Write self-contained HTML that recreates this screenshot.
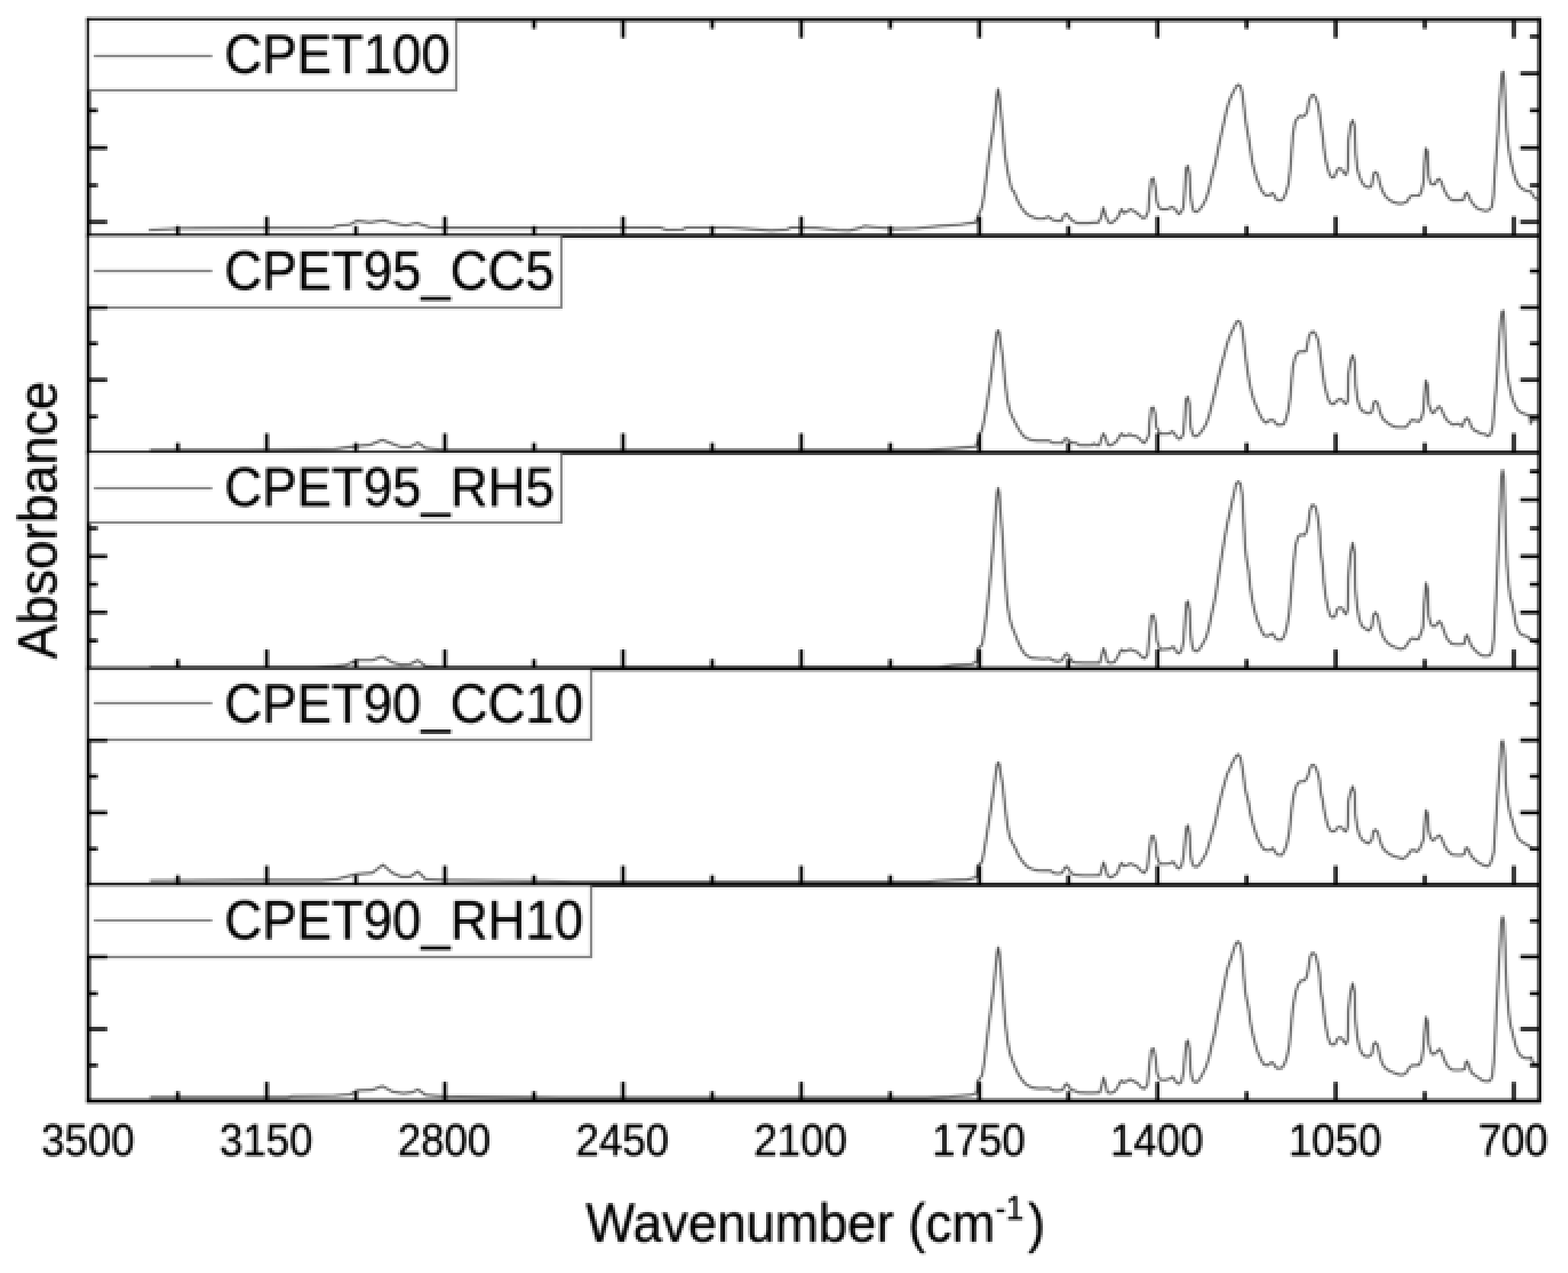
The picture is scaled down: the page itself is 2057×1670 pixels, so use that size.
<!DOCTYPE html>
<html lang="en"><head><meta charset="utf-8"><title>FTIR absorbance spectra</title>
<style>html,body{margin:0;padding:0;background:#fff}body{width:2057px;height:1670px;overflow:hidden}svg{display:block}text{font-family:"Liberation Sans",Arial,Helvetica,sans-serif;fill:#000;stroke:#000;stroke-width:0.5px;stroke-linejoin:round}.ax{stroke:#000;fill:none}.cv{stroke:#4e4e4e;fill:none;stroke-linejoin:round;stroke-linecap:butt}.lg{fill:#fff;stroke:none}.lb{stroke:#6e6e6e;fill:none}</style></head><body>
<svg width="2057" height="1670" viewBox="0 0 2057 1670">
<defs><pattern id="dots" patternUnits="userSpaceOnUse" x="0" y="0" width="3" height="3"><rect x="1" y="1" width="1" height="1" fill="#fff"/></pattern><mask id="grid" maskUnits="userSpaceOnUse" x="0" y="0" width="2057" height="1670"><rect width="2057" height="1670" fill="url(#dots)"/></mask><filter id="pre" filterUnits="userSpaceOnUse" x="0" y="0" width="2057" height="1670" color-interpolation-filters="sRGB"><feGaussianBlur stdDeviation="1"/></filter><filter id="post" filterUnits="userSpaceOnUse" x="0" y="0" width="2057" height="1670" color-interpolation-filters="sRGB"><feMorphology operator="dilate" radius="1"/></filter></defs>
<g filter="url(#post)"><g mask="url(#grid)"><g filter="url(#pre)">
<rect width="2057" height="1670" fill="#fff"/>
<g id="panel1">
<polyline class="cv" stroke-width="2.9" points="195.2,301.9 237.5,299.6 325,299 435.9,298.7 441.7,296.1 459.2,294.6 468,289.7 485.5,291.7 503,289.1 514.6,292.3 532.1,295.8 546.7,292.6 564.2,298.1 581.7,298.7 750.1,298.7 865.9,298.4 874.6,301.6 895,301.1 900.9,298.4 953.4,298.4 982.5,300.2 1011.7,302.5 1032.1,301.1 1038,298.4 1070.1,299 1099.2,301.9 1113.8,302.5 1128.4,299 1134.2,296.7 1151.7,298.4 1175.1,300.2 1201.3,299.6 1230.5,296.7 1259.7,294.6 1280.1,291.7 1281.9,286.9 1285.5,278.1 1288.4,270.7 1291.3,253.3 1294.3,229.9 1297.3,206 1300.3,186.2 1303.3,167.1 1306.3,141.9 1307.9,124 1309.3,116.8 1310.7,124 1312.3,138.9 1315.3,168.9 1318.3,203 1321.3,221.6 1324.3,236.5 1327.3,248.5 1330.3,251.5 1333.3,259.3 1336.3,265.9 1339.3,271.3 1342.8,276 1346.4,280.2 1350,282.6 1354.8,284.7 1360.6,286.9 1369.4,286.9 1375.2,284 1381,288.3 1386.9,289.8 1392.7,289.8 1395.6,282.5 1399.3,280.3 1402.9,285.4 1407.3,289.8 1413.1,292.7 1420.4,292.7 1427.7,292.7 1435,292 1440.8,292 1444.5,285.4 1447.4,272.3 1450.3,282.5 1454,291.3 1457.6,292.7 1462,289.8 1466.4,285.4 1470,276.7 1471.5,274.5 1474.4,279.6 1478.8,277.4 1483.1,274.5 1487.5,276.7 1493.3,281 1499.2,286.1 1502.8,285.4 1506.5,276.7 1507.9,254.8 1510.1,235.8 1513,233.6 1515.9,247.5 1517.4,263.5 1520.3,272.3 1524,274.5 1531.3,274.5 1537.1,271.6 1541.5,273.8 1542.9,276.7 1546.6,281 1549.5,278.1 1552.4,272.3 1553.9,254.8 1556,221.3 1558.2,217.6 1560.4,228.5 1561.9,257.7 1564.1,270.8 1566.3,277.4 1569.9,278.1 1573.5,275.2 1577.9,269.4 1582.3,260.6 1585.9,249 1588.9,235.8 1591.8,224.2 1594.7,212.5 1597.6,197.9 1600.5,183.3 1603.4,170.2 1606.4,157.1 1609.3,144 1612.2,133.8 1615.1,126.5 1618.8,119.2 1621.7,113.3 1624.6,111.1 1627.5,113.3 1629.7,122.1 1631.9,139.6 1634.1,158.5 1636.3,171.7 1638.4,183.3 1640.6,197.9 1642.8,212.5 1645.7,224.2 1648.6,234.4 1651.6,241.7 1654.5,249 1657.4,253.3 1660.3,256.3 1665.4,256.3 1669.1,253.3 1672,256.3 1674.2,261.4 1677.8,262.8 1681.5,262.8 1684.4,259.2 1687.3,251.9 1690.2,241.7 1692.4,224.2 1693.9,206.7 1696,177.5 1699,160 1702.6,154.2 1705.5,152 1708.4,153.4 1712.1,151.3 1715,146.1 1717.2,132.3 1720.1,125.7 1723,124.3 1725.9,127.9 1728.9,136.7 1731,148.3 1733.2,165.8 1735.4,180.4 1736.9,195 1739.1,209.6 1742,221.3 1744.2,228.5 1747.1,232.9 1750.7,232.2 1753.7,224.2 1756.6,220.5 1760.2,222 1763.1,227.1 1766,229.3 1768.2,221.3 1769,184.8 1771.9,162.9 1774.5,157.8 1777,165.8 1778.4,200.8 1780.6,221.3 1783.5,231.5 1786.5,238.8 1789.4,243.1 1793,245.3 1796.7,246 1799.6,243.1 1802.1,227.7 1804.8,225.7 1807.6,229.1 1810.3,241.5 1813.8,251.1 1817.9,258 1823.4,262.8 1828.9,265.6 1834.4,267 1839.9,267 1845.4,264.9 1848.9,259.4 1851.6,256.6 1856.5,256.6 1862,256.6 1864.7,251.1 1867.5,238.7 1868.9,213.9 1870.5,194.7 1872.7,198.8 1874.1,230.5 1876.4,240.1 1879.2,242.2 1882.6,241.5 1885.4,236 1888.1,234.6 1890.9,238.7 1894.3,248.4 1897.8,255.3 1901.9,260.8 1906,262.8 1912.9,262.8 1919.8,262.2 1921.9,255.3 1924.4,252.5 1926.7,256.6 1929.5,263.5 1933.6,269 1937.7,273.2 1943.2,275.2 1948.7,276.6 1952.9,275.9 1957,271.8 1959.1,258 1961.1,227.7 1963.2,200.2 1965.3,172.6 1966.6,145.1 1968.7,117.5 1970.4,95.5 1972.2,94.1 1973.5,110.7 1974.9,138.2 1976.3,167.1 1978.4,189.2 1980.4,202.9 1983.2,216.7 1985.9,227.7 1988.7,236 1992.1,242.9 1996.9,247.7 2002.5,250.4 2008,251.1 2012.1,258 2016.9,262.2"/>
<path class="ax" stroke-width="5.1" d="M116 23.15 V311.75"/>
<path class="ax" stroke-width="4.7" d="M2019.65 23.15 V311.75"/>
<path class="ax" stroke-width="5.1" d="M113.45 25.7 H2022M113.45 309.2 H2022"/>
<path class="ax" stroke-width="4.8" d="M350.0 309.2 V284M350.0 25.7 V49.9M583.7 309.2 V284M583.7 25.7 V49.9M817.4 309.2 V284M817.4 25.7 V49.9M1051.1 309.2 V284M1051.1 25.7 V49.9M1284.9 309.2 V284M1284.9 25.7 V49.9M1518.6 309.2 V284M1518.6 25.7 V49.9M1752.3 309.2 V284M1752.3 25.7 V49.9M1986.0 309.2 V284M1986.0 25.7 V49.9M233.2 309.2 V296.6M233.2 25.7 V37.8M466.9 309.2 V296.6M466.9 25.7 V37.8M700.6 309.2 V296.6M700.6 25.7 V37.8M934.3 309.2 V296.6M934.3 25.7 V37.8M1168.0 309.2 V296.6M1168.0 25.7 V37.8M1401.7 309.2 V296.6M1401.7 25.7 V37.8M1635.4 309.2 V296.6M1635.4 25.7 V37.8M1869.1 309.2 V296.6M1869.1 25.7 V37.8M116 47.8 H128.1M2019.65 47.8 H2007.05M116 96.3 H140.7M2019.65 96.3 H1994.45M116 144.8 H128.1M2019.65 144.8 H2007.05M116 194 H140.7M2019.65 194 H1994.45M116 243.2 H128.1M2019.65 243.2 H2007.05M116 291.1 H140.7M2019.65 291.1 H1994.45"/>
<rect class="lg" x="116.7" y="26.7" width="481.8" height="91.8"/>
<path class="lb" stroke-width="3" d="M598.5 26.7 V118.5 H117.5"/>
<path class="cv" stroke-width="3" style="stroke:#707070" d="M123 73.5 H278.4"/>
<text x="294.6" y="96.2" font-size="68.3px" transform="matrix(1 0 0 1.065 0 -6.25)">CPET100</text>
</g>
<g id="panel2">
<polyline class="cv" stroke-width="2.9" points="196.7,590.4 325,590.4 438.8,589.1 468,585.3 485.5,583.6 501.5,577.2 514.6,582.1 526.3,586.5 538,586.5 548.2,580.7 558.4,587.7 581.7,590.4 750.1,590.4 1215.9,590.4 1250.9,588.3 1280.1,585.9 1281.1,584 1285.5,569.4 1288.4,563.9 1291.3,550.1 1294.3,532.8 1297.3,513.6 1300.3,492.6 1303.3,469.9 1306.3,445.9 1307.9,435.7 1309.3,433.4 1310.7,435.7 1312.3,448.3 1315.3,468.1 1318.3,499.8 1321.3,523.2 1324.3,537.5 1327.3,545.3 1330.3,551.3 1333.3,557.3 1336.3,562.7 1339.3,567.5 1342.8,572.3 1347.6,575.3 1353.6,577.4 1360.6,578.2 1369.4,578.2 1376.7,578.2 1381,581.1 1388.3,581.1 1394.2,581.1 1396.4,576 1399.3,575 1402.2,578.2 1405.8,580.8 1411.7,581.1 1416,584 1423.3,584.3 1432.1,584 1435,581.8 1437.9,584 1442.3,584 1444.9,575.3 1447.4,568.7 1450.3,573.8 1453.2,583.3 1456.9,584.3 1461.3,581.8 1465.6,578.2 1468.5,572.3 1471.5,568.7 1474.4,572 1478.8,571.6 1481.7,569.4 1485.3,571.6 1490.4,572.3 1494.8,575.3 1499.2,580.4 1501.4,581.1 1504.3,576.7 1507.2,570.9 1507.9,556.3 1510.1,535.9 1513,534.4 1515.5,543.2 1517,560.7 1519.6,563.6 1521,568.7 1526.9,569.1 1534.2,568.7 1537.8,565.8 1540.7,568.7 1542.9,572.3 1546.6,576 1549.5,574.5 1552.4,569.4 1553.9,553.4 1555.8,524.2 1558.2,520.6 1560.4,530 1561.9,559.2 1564.1,568 1566.3,572.3 1569.9,572.3 1573.5,569.4 1577.9,563.6 1582.3,556.3 1585.9,546.1 1588.9,534.4 1591.8,522.8 1594.7,511.1 1597.6,498.7 1600.5,486.3 1603.4,474.6 1606.4,464.4 1609.3,452.8 1612.2,444 1615.1,436.7 1618.8,429.4 1621.7,422.9 1624.6,421 1627.5,423.6 1629.7,432.3 1631.9,449.8 1634.1,468.8 1636.3,484.8 1639.2,502.3 1642.1,515.5 1645,525.7 1648.6,534.4 1651.6,541.7 1654.5,547.5 1657.4,551.9 1661,554.8 1665.4,551.2 1670.5,551.2 1673.4,554.8 1675.6,557.5 1680,557.5 1684.4,556.3 1687.3,549 1690.2,537.3 1692.4,522.8 1693.9,505.3 1696,481.9 1699,468.8 1702.6,462.2 1706.3,461.2 1709.9,461.2 1713.5,460.8 1715,452.8 1717.2,441.1 1720.1,436 1723,435 1725.9,438.2 1728.9,445.5 1731,457.1 1733.2,474.6 1735.4,490.7 1737.6,505.3 1740.5,516.9 1743.4,525.7 1746.4,530 1750,530 1753.7,525.7 1757.3,523.5 1760.2,524.2 1763.1,527.9 1765.8,530 1768.2,525.7 1769,490.7 1771.9,473.2 1774.5,465.9 1777,474.6 1778.4,505.3 1780.6,522.8 1783.5,533 1786.5,538.8 1790.1,540.3 1794.5,542.4 1798.1,541.7 1800,539.3 1802.1,528.2 1804.8,526.2 1807.6,529.6 1810.3,540.6 1813.8,548.9 1817.9,553 1823.4,557.2 1830.3,560.2 1837.2,560.6 1844.1,560.6 1848.2,555.8 1851.6,551 1856.5,551.7 1861.3,553 1864.7,548.9 1867.2,539.3 1868.9,518.6 1870.5,499.3 1872.7,504.8 1874.1,529.6 1876.4,536.5 1879.2,542 1882.6,540 1885.4,535.1 1888.1,533.1 1890.9,536.5 1894.3,544.8 1897.8,551 1901.9,554.4 1906,557.2 1912.9,555.8 1918.4,559.2 1921.2,551.7 1924.4,548.2 1927.4,551.7 1930.1,559.9 1933.6,564.1 1937.7,566.1 1943.2,568.9 1948.7,569.6 1951.5,572.3 1955.6,569.6 1958.4,558.5 1960.4,533.8 1962.5,511.7 1964.6,484.2 1966.6,449.7 1968.7,422.2 1970.4,409.1 1972.2,407.7 1973.5,426.3 1974.9,456.6 1976.3,481.4 1978.4,497.9 1981.1,511.7 1983.9,522.7 1987.3,531 1990.7,537.9 1995.6,541.3 2001.1,543.4 2006.6,544.8 2008,555.8 2010.7,550.3 2016.9,551.7"/>
<path class="ax" stroke-width="5.1" d="M116 306.65 V596.25"/>
<path class="ax" stroke-width="4.7" d="M2019.65 306.65 V596.25"/>
<path class="ax" stroke-width="5.1" d="M113.45 593.7 H2022"/>
<path class="ax" stroke-width="4.8" d="M350.0 593.7 V568.5M583.7 593.7 V568.5M817.4 593.7 V568.5M1051.1 593.7 V568.5M1284.9 593.7 V568.5M1518.6 593.7 V568.5M1752.3 593.7 V568.5M1986.0 593.7 V568.5M233.2 593.7 V581.1M466.9 593.7 V581.1M700.6 593.7 V581.1M934.3 593.7 V581.1M1168.0 593.7 V581.1M1401.7 593.7 V581.1M1635.4 593.7 V581.1M1869.1 593.7 V581.1M116 355.7 H128.1M2019.65 355.7 H2007.05M116 403.4 H140.7M2019.65 403.4 H1994.45M116 450.6 H128.1M2019.65 450.6 H2007.05M116 498.4 H140.7M2019.65 498.4 H1994.45M116 546.6 H128.1M2019.65 546.6 H2007.05"/>
<rect class="lg" x="116.7" y="309.85" width="619.8" height="93.65"/>
<path class="lb" stroke-width="3" d="M736.5 309.85 V403.5 H117.5"/>
<path class="ax" stroke-width="3.8" d="M116 403.4 H140.7"/>
<path class="cv" stroke-width="3" style="stroke:#707070" d="M123 355.5 H278.4"/>
<text x="294.6" y="380.4" font-size="68.3px" transform="matrix(1 0 0 1.065 0 -24.73)">CPET95_CC5</text>
</g>
<g id="panel3">
<polyline class="cv" stroke-width="2.9" points="196.7,874.9 412.5,874.9 438.8,874 453.4,872.8 468,866.1 488.4,866.1 501.5,861.2 514.6,869.1 526.3,872 538,871.4 548.2,866.1 558.4,874 581.7,874.9 750.1,874.9 1230.5,874.9 1250.9,872.8 1274.3,871.4 1281.6,868.2 1282.2,852.1 1288.5,845.5 1291.5,826.8 1294.5,802.8 1297.5,774.4 1300.5,743 1303.5,708.6 1306.4,667.4 1308.1,646.5 1309.4,640.2 1310.8,646.5 1312.4,670.4 1315.4,707.8 1318.4,758.7 1321.4,791.6 1324.4,810.3 1327.4,821.5 1330.4,829 1333.4,836.5 1336.4,844 1339.4,850 1342.4,855.2 1345.4,858.9 1349.8,861.6 1353.9,863.3 1362.1,863.9 1368.7,864.4 1376.9,863.6 1381.9,866.5 1388.4,867.7 1393.4,866.1 1396.7,859.5 1399.5,857.5 1402.4,860.3 1404.9,866.1 1409.8,869.3 1421.4,869.7 1432.9,869.7 1442.8,869.7 1445.2,860.3 1447.7,850.4 1450.2,857 1452.7,868.5 1456.8,869.8 1461.7,868.9 1465.8,862.8 1469.1,855.3 1471.6,852.1 1474.1,854.5 1478.2,853.7 1482.3,851.7 1487.2,853.7 1492.2,855.3 1497.1,861.1 1501.2,863.6 1505.3,859.5 1507.8,833.9 1510.3,807.6 1513.3,806.8 1516.1,819.1 1517.7,840.5 1520.2,847.1 1521.8,852.1 1528.4,851.7 1535,851.2 1538.3,848.4 1540,848.8 1543.3,855.3 1546.6,857.3 1549.9,853.7 1552.8,840.5 1554.5,815.8 1556.5,791.1 1558.4,788.7 1560.6,801 1561.9,832.3 1563.9,847.1 1566.3,853.7 1570.5,854.5 1573.8,851.2 1577.9,844.6 1582.5,835.6 1586.1,822.4 1589.4,805.9 1592.7,791.1 1595.2,778 1597.6,761.5 1600.6,741.7 1603.4,725.3 1606.7,705.5 1610,687.4 1613.3,672.6 1616.1,659.4 1619,647 1621.5,634.7 1624.5,631.7 1627.3,634.7 1629.7,649.5 1631.4,682.5 1633.5,718.7 1635.5,735.1 1638,748.3 1640.1,769.7 1642.9,787.8 1646.2,802.7 1649.5,814.2 1653.6,824.1 1657.7,833.1 1662.7,834.8 1666.8,832.3 1669.8,831 1672.6,836.4 1675.8,839.2 1681.6,839.2 1684.9,833.9 1688.2,822.4 1691.5,802.7 1694,774.7 1695.6,754.9 1697.3,736.8 1699.7,715.4 1703,703.9 1706.3,701.4 1711.2,702.2 1714.2,697.3 1716.2,687.4 1718.7,669.3 1721.1,662.7 1723.6,662.7 1726.1,666 1728.5,677.5 1731,697.3 1732.7,725.3 1735.1,741.7 1736.8,764.8 1739.2,782.9 1741.7,796.1 1745,807.6 1748.3,810.1 1751.6,808.4 1754.1,799.4 1757.4,796.9 1760.6,797.7 1763.1,802.7 1765.9,805.9 1768.1,799.4 1768.9,758.2 1771.4,728.6 1774.5,712.1 1777.1,725.3 1777.9,771.4 1780.4,796.1 1782.9,810.9 1786.2,820.8 1790.3,824.1 1795.2,827.4 1798.5,824.1 1800,820.7 1801.6,807.6 1804.4,803.4 1807.4,807.6 1810.2,822.4 1813.2,832.3 1816.5,838.8 1820.6,843.8 1825.5,847.1 1831.3,849.5 1837,851.7 1842,850.4 1846.1,845.4 1849.4,839.7 1852.7,837.2 1856.8,838.5 1860.9,838.5 1864.2,830.6 1866.7,822.4 1868.3,794.4 1870.8,764.8 1872.9,773 1874.1,807.6 1876.6,817.4 1879,821.6 1883.1,821.6 1885.6,817.4 1888.6,815 1891.4,819.1 1894.2,827.3 1897.1,835.6 1900.4,840.5 1904.5,844.6 1910.3,845.4 1916.9,845.4 1921,844.6 1922.7,835.6 1924.6,833.1 1926.8,838.8 1930.1,847.1 1934.2,852 1939.1,857 1944.9,860.2 1949.8,860.6 1954.8,859.9 1957.7,853.7 1959.7,837.2 1961.3,807.6 1963,774.6 1964.6,741.7 1966.3,702.2 1967.9,669.3 1969.6,626.5 1971.2,616.6 1972.9,626.5 1974.2,667.6 1975.3,705.5 1977,741.7 1979.1,766.4 1981.1,782.9 1983.6,791.1 1986,804.3 1988.5,819.1 1991.8,827.3 1995.1,832.3 2000,833.9 2005,835.6 2009.1,840.5 2014,843 2017.3,843.8"/>
<path class="ax" stroke-width="5.1" d="M116 591.15 V879.85"/>
<path class="ax" stroke-width="4.7" d="M2019.65 591.15 V879.85"/>
<path class="ax" stroke-width="5.1" d="M113.45 877.3 H2022"/>
<path class="ax" stroke-width="4.8" d="M350.0 877.3 V852.1M583.7 877.3 V852.1M817.4 877.3 V852.1M1051.1 877.3 V852.1M1284.9 877.3 V852.1M1518.6 877.3 V852.1M1752.3 877.3 V852.1M1986.0 877.3 V852.1M233.2 877.3 V864.7M466.9 877.3 V864.7M700.6 877.3 V864.7M934.3 877.3 V864.7M1168.0 877.3 V864.7M1401.7 877.3 V864.7M1635.4 877.3 V864.7M1869.1 877.3 V864.7M116 618.5 H128.1M2019.65 618.5 H2007.05M116 655.7 H140.7M2019.65 655.7 H1994.45M116 693.1 H128.1M2019.65 693.1 H2007.05M116 729.8 H140.7M2019.65 729.8 H1994.45M116 766.7 H128.1M2019.65 766.7 H2007.05M116 803.4 H140.7M2019.65 803.4 H1994.45M116 840.5 H128.1M2019.65 840.5 H2007.05"/>
<rect class="lg" x="116.7" y="593.95" width="619.8" height="91.55"/>
<path class="lb" stroke-width="3" d="M736.5 593.95 V685.5 H117.5"/>
<path class="cv" stroke-width="3" style="stroke:#707070" d="M123 640.5 H278.4"/>
<text x="294.6" y="663.8" font-size="68.3px" transform="matrix(1 0 0 1.065 0 -43.15)">CPET95_RH5</text>
</g>
<g id="panel4">
<polyline class="cv" stroke-width="2.9" points="196.7,1155.4 325,1154.8 421.3,1154.8 441.7,1153.4 468,1146.7 488.4,1145.2 502.4,1134.4 514.6,1145.2 526.3,1150.2 538,1150.2 548.2,1143.2 558.4,1153.4 581.7,1154.6 718.8,1156 750.1,1156.9 1215.9,1156.9 1230.5,1155.4 1268.4,1154 1280.1,1151.1 1281.4,1151.1 1282.2,1136.2 1288.3,1130.7 1291.4,1114.2 1294.4,1096 1297.4,1077.3 1300.4,1057.4 1303.5,1036.3 1306.4,1014.1 1308,1003.3 1309.5,1000.3 1311,1002.8 1312.4,1013 1315.4,1030.1 1318.5,1059.1 1321.4,1081.8 1324.4,1097.2 1327.5,1104.6 1330.4,1109.7 1333.4,1115.9 1336.4,1122.8 1339.4,1127.3 1342.4,1131.3 1345.4,1134.7 1348.4,1137.6 1352.6,1139.5 1358.3,1141.5 1362.1,1142 1370.3,1142.3 1378.6,1142.3 1381.9,1145.3 1388.4,1146.1 1393.4,1145.3 1396.7,1138.7 1399.5,1136.7 1402.4,1140.3 1404.9,1145.3 1409.8,1147.8 1421.4,1148.6 1432.9,1148.6 1442.8,1148.3 1445.2,1140.3 1447.7,1131.3 1450.2,1138.7 1452.7,1148.6 1456.8,1151.1 1461.7,1148.6 1465.8,1145.3 1469.1,1135.4 1471.6,1132.1 1474.1,1136.2 1478.2,1135.4 1482.3,1132.9 1487.2,1134.6 1492.2,1137.1 1497.1,1142.8 1501.2,1145.3 1505.3,1138.7 1507.8,1115.6 1510.3,1097.5 1513.3,1096.7 1516.1,1107.4 1517.7,1123.9 1520.2,1130.5 1521.8,1133.4 1528.4,1133.4 1535,1132.9 1538.3,1130.5 1540,1131.3 1543.3,1137.1 1546.6,1139.5 1549.9,1136.2 1552.8,1122.2 1554.5,1104.1 1556.5,1086 1558.4,1082.7 1560.6,1095.9 1561.9,1122.2 1563.9,1132.1 1566.3,1136.7 1570.5,1137.1 1573.8,1133.8 1577.9,1127.2 1582.5,1118.9 1586.1,1107.4 1589.4,1095.9 1592.7,1084.4 1595.2,1074.5 1597.6,1063 1600.6,1049.8 1603.4,1038.3 1606.7,1026.7 1610,1015.2 1613.3,1008.6 1616.1,1002 1619,996.3 1621.5,992.2 1624.5,989.7 1627.3,993.8 1629.7,1007 1631.4,1018.5 1633.5,1035 1635.5,1043.2 1638,1053.1 1640.1,1066.2 1642.9,1077.8 1646.2,1089.3 1649.5,1099.2 1653.6,1107.4 1657.7,1114 1662.7,1115.6 1666.8,1114.8 1669.8,1112.4 1672.6,1117.3 1675.8,1121.4 1681.6,1121.9 1684.9,1116.5 1688.2,1107.4 1691.5,1090.9 1694,1066.2 1695.6,1053.1 1697.3,1043.2 1699.7,1033.3 1703,1026.7 1706.3,1025.1 1711.2,1025.1 1714.2,1021.8 1716.2,1016.9 1718.7,1007 1721.1,1003.7 1723.6,1003.7 1726.1,1007 1728.5,1013.6 1731,1023.4 1732.7,1039.9 1735.1,1049.8 1736.8,1061.3 1739.2,1072.8 1741.7,1082.7 1745,1089.3 1748.3,1090.9 1751.6,1090.1 1754.1,1086 1757.4,1084.7 1760.6,1086 1763.1,1089.3 1765.9,1090.9 1768.1,1084.4 1768.9,1051.4 1771.4,1039.9 1774.5,1031.7 1777.1,1039.9 1777.9,1067.9 1780.4,1084.4 1782.9,1094.2 1786.2,1100.8 1790.3,1104.1 1795.2,1106.6 1798.5,1103.3 1800,1100.8 1801.6,1090.9 1804.4,1088.4 1807.4,1091.7 1810.2,1102.4 1813.2,1110.7 1816.5,1115.6 1820.6,1118.9 1825.5,1121.9 1831.3,1124.2 1837,1125.5 1839.5,1126.8 1844.5,1124.2 1847.7,1120.6 1851,1115.6 1855.2,1115.3 1858.4,1117.3 1861.7,1114.8 1865,1107.4 1867.5,1100.8 1868.8,1084.3 1870.8,1062.9 1872.9,1067.9 1874.1,1089.3 1876.6,1099.1 1879.8,1102.8 1883.1,1100 1885.9,1097.2 1888.6,1095.9 1891.4,1100 1894.2,1107.4 1897.1,1113.1 1900.4,1117.3 1905.4,1121.4 1912,1121.9 1918.5,1121.9 1921.5,1119.7 1922.7,1113.1 1924.6,1112 1926.8,1115.6 1930.1,1123 1934.2,1127.1 1939.1,1131.3 1944.9,1134.5 1951.5,1136.7 1954.8,1133.7 1957.7,1125.5 1959.7,1117.3 1961.3,1092.6 1963,1067.9 1964.6,1043.2 1966.3,1020.1 1967.9,1000.4 1969.6,974 1971.2,971.6 1972.9,980.6 1974.2,993.8 1975.3,1026.7 1977,1043.2 1979.1,1058 1981.1,1067.9 1983.6,1076.1 1986,1084.3 1988.5,1092.6 1991.8,1100 1995.1,1103.3 2000,1106.6 2005,1109 2009.1,1112.3 2014,1113.1 2017.3,1114"/>
<path class="ax" stroke-width="5.1" d="M116 874.75 V1163.45"/>
<path class="ax" stroke-width="4.7" d="M2019.65 874.75 V1163.45"/>
<path class="ax" stroke-width="5.1" d="M113.45 1160.9 H2022"/>
<path class="ax" stroke-width="4.8" d="M350.0 1160.9 V1135.7M583.7 1160.9 V1135.7M817.4 1160.9 V1135.7M1051.1 1160.9 V1135.7M1284.9 1160.9 V1135.7M1518.6 1160.9 V1135.7M1752.3 1160.9 V1135.7M1986.0 1160.9 V1135.7M233.2 1160.9 V1148.3M466.9 1160.9 V1148.3M700.6 1160.9 V1148.3M934.3 1160.9 V1148.3M1168.0 1160.9 V1148.3M1401.7 1160.9 V1148.3M1635.4 1160.9 V1148.3M1869.1 1160.9 V1148.3M116 923.3 H128.1M2019.65 923.3 H2007.05M116 971 H140.7M2019.65 971 H1994.45M116 1018.5 H128.1M2019.65 1018.5 H2007.05M116 1066.1 H140.7M2019.65 1066.1 H1994.45M116 1113.7 H128.1M2019.65 1113.7 H2007.05"/>
<rect class="lg" x="116.7" y="878.3" width="658.8" height="92.2"/>
<path class="lb" stroke-width="3" d="M775.5 878.3 V970.5 H117.5"/>
<path class="ax" stroke-width="3.8" d="M116 971 H140.7"/>
<path class="cv" stroke-width="3" style="stroke:#707070" d="M123 922.5 H278.4"/>
<text x="294.6" y="948.4" font-size="68.3px" transform="matrix(1 0 0 1.065 0 -61.65)">CPET90_CC10</text>
</g>
<g id="panel5">
<polyline class="cv" stroke-width="2.9" points="196.7,1439.4 377.5,1439.4 383.4,1438 438.8,1437.4 459.2,1435.9 468,1430.7 488.4,1429.8 501.5,1424.8 514.6,1432.1 529.2,1434.2 540.9,1433 548.2,1429.2 558.4,1436.5 581.7,1438.3 733.4,1440 750.1,1440 1215.9,1440 1245.1,1438.8 1274.3,1436.5 1281.6,1433.6 1282.2,1419.2 1288.4,1410.5 1291.5,1391.4 1294.5,1366.3 1297.5,1341.3 1300.6,1318.9 1303.6,1295.2 1306.5,1266.2 1308.1,1249.8 1309.5,1242.9 1311,1249.8 1312.6,1266.2 1315.6,1303.8 1318.6,1341.3 1321.6,1364.4 1324.5,1380.2 1327.6,1390 1330.6,1397.3 1333.6,1404.5 1336.7,1410.5 1339.7,1415.1 1342.7,1419 1345.6,1422.3 1350,1424.9 1355.9,1427.3 1362.1,1428 1368.7,1428 1376.9,1427.5 1381.9,1430.8 1388.4,1430.8 1394.2,1429.9 1396.7,1424.2 1399.5,1421.7 1402.4,1425 1404.9,1429.9 1409.8,1430.8 1414.8,1433.2 1424.7,1433.7 1434.5,1433.7 1442.8,1433.2 1445.2,1425 1447.7,1413.5 1450.2,1421.7 1452.7,1433.2 1456.8,1434.1 1461.7,1432.4 1465.8,1427.5 1469.1,1420.1 1471.6,1417.6 1474.1,1420.1 1478.2,1418.7 1482.3,1415.9 1487.2,1418.4 1492.2,1420.9 1497.1,1426.6 1501.2,1428.3 1505.3,1423.3 1507.8,1398.6 1510.3,1377.2 1513.3,1375.6 1516.1,1388.8 1517.7,1406.9 1520.2,1413.5 1521.8,1416.4 1528.4,1416.8 1535,1415.1 1538.3,1412.6 1540,1415.1 1543.3,1420.1 1546.6,1422 1549.9,1419.2 1552.8,1405.2 1554.5,1385.5 1556.5,1367.4 1558.4,1364.9 1560.6,1377.2 1561.9,1403.6 1563.9,1415.1 1566.3,1419.2 1570.5,1419.7 1573.8,1415.9 1577.9,1408.5 1582.5,1398.6 1586.1,1387.1 1589.4,1372.3 1592.7,1359.1 1595.2,1347.6 1597.6,1332.8 1600.6,1319.6 1603.4,1304.8 1606.7,1288.3 1610,1271.9 1613.3,1262 1616.1,1253.7 1619,1243.9 1621.5,1237.3 1624.5,1235.3 1627.3,1238.9 1629.7,1253.7 1631.4,1276.8 1633.5,1299.9 1635.5,1311.4 1638,1322.9 1640.1,1339.4 1642.9,1354.2 1646.2,1367.4 1649.5,1378.9 1653.6,1388.8 1657.7,1396.2 1662.7,1397.8 1666.8,1394.5 1669.8,1394 1672.6,1398.6 1675.8,1401.6 1681.6,1401.1 1684.9,1396.2 1688.2,1387.1 1691.5,1370.7 1694,1344.3 1695.6,1326.2 1697.3,1314.7 1699.7,1301.5 1703,1291.6 1706.3,1286.7 1711.2,1285.9 1714.2,1281.7 1716.2,1271.9 1718.7,1255.4 1721.1,1250.5 1723.6,1250.5 1726.1,1253.7 1728.5,1263.6 1731,1276.8 1732.7,1299.9 1735.1,1313 1736.8,1329.5 1739.2,1346 1741.7,1359.1 1745,1369 1748.3,1370.7 1751.6,1369.8 1754.1,1363.2 1757.4,1360.8 1760.6,1362.4 1763.1,1366.5 1765.9,1369.8 1768.1,1364.1 1768.9,1326.2 1771.4,1303.1 1774.5,1290 1777.1,1301.5 1777.9,1336.1 1780.4,1359.1 1782.9,1372.3 1786.2,1381.4 1790.3,1385.5 1795.2,1386.3 1798.5,1383.8 1800,1382.1 1801.6,1370.6 1804.4,1367.3 1807.4,1371.4 1810.2,1385.4 1813.2,1395.3 1816.5,1400.3 1820.6,1403.6 1825.5,1406 1831.3,1408.5 1837,1410.1 1841.2,1409.8 1845.3,1406.8 1848.6,1401.1 1851.9,1397.8 1856.8,1397.8 1861.7,1397 1865,1390.4 1867.2,1375.6 1868.8,1355.8 1870.8,1334.4 1872.9,1341 1874.1,1369 1876.6,1378.9 1879,1383 1883.1,1382.1 1885.6,1378.9 1888.6,1376.4 1891.4,1380.5 1894.2,1388.7 1897.1,1395.3 1900.4,1400.3 1905.4,1403.6 1912,1403.9 1918.5,1403.6 1921.8,1401.9 1923,1393.7 1924.6,1392 1926.8,1397 1930.1,1406.8 1934.2,1410.1 1939.1,1413.4 1944.9,1417.5 1949.8,1418.7 1954.8,1418 1957.7,1411.8 1959.7,1392 1961.3,1365.7 1963,1326.2 1964.6,1299.8 1966.3,1266.9 1967.9,1240.6 1969.6,1209.3 1971.2,1202.7 1972.9,1209.3 1974.2,1237.3 1975.3,1270.2 1977,1301.5 1979.1,1326.2 1981.1,1342.6 1983.6,1352.5 1986,1362.4 1988.5,1372.3 1991.8,1380.5 1995.1,1385.4 2000,1387.9 2005,1388.7 2008.8,1387.1 2010.7,1393.7 2014,1395.3 2017.3,1397.8"/>
<path class="ax" stroke-width="5.1" d="M116 1158.35 V1446.9"/>
<path class="ax" stroke-width="4.7" d="M2019.65 1158.35 V1446.9"/>
<path class="ax" stroke-width="5.1" d="M113.45 1444.35 H2022"/>
<path class="ax" stroke-width="4.8" d="M350.0 1444.35 V1419.15M583.7 1444.35 V1419.15M817.4 1444.35 V1419.15M1051.1 1444.35 V1419.15M1284.9 1444.35 V1419.15M1518.6 1444.35 V1419.15M1752.3 1444.35 V1419.15M1986.0 1444.35 V1419.15M233.2 1444.35 V1431.75M466.9 1444.35 V1431.75M700.6 1444.35 V1431.75M934.3 1444.35 V1431.75M1168.0 1444.35 V1431.75M1401.7 1444.35 V1431.75M1635.4 1444.35 V1431.75M1869.1 1444.35 V1431.75M116 1208.2 H128.1M2019.65 1208.2 H2007.05M116 1255.1 H140.7M2019.65 1255.1 H1994.45M116 1303.3 H128.1M2019.65 1303.3 H2007.05M116 1350 H140.7M2019.65 1350 H1994.45M116 1397.7 H128.1M2019.65 1397.7 H2007.05"/>
<rect class="lg" x="116.7" y="1161.85" width="658.8" height="93.65"/>
<path class="lb" stroke-width="3" d="M775.5 1161.85 V1255.5 H117.5"/>
<path class="ax" stroke-width="3.8" d="M116 1255.1 H140.7"/>
<path class="cv" stroke-width="3" style="stroke:#707070" d="M123 1207.5 H278.4"/>
<text x="294.6" y="1231.8" font-size="68.3px" transform="matrix(1 0 0 1.065 0 -80.07)">CPET90_RH10</text>
</g>
<g id="xticklabels" font-size="55px" text-anchor="middle" style="stroke-width:0.3px" transform="matrix(1 0 0 1.065 0 -98.55)">
<text x="115.4" y="1516.2">3500</text>
<text x="349.1" y="1516.2">3150</text>
<text x="582.8" y="1516.2">2800</text>
<text x="816.5" y="1516.2">2450</text>
<text x="1050.2" y="1516.2">2100</text>
<text x="1284.0" y="1516.2">1750</text>
<text x="1517.7" y="1516.2">1400</text>
<text x="1751.4" y="1516.2">1050</text>
<text x="1985.1" y="1516.2">700</text>
</g>
<text id="xlabel" x="768.4" y="1629.2" font-size="68.4px" transform="matrix(1 0 0 1.065 0 -105.90)">Wavenumber (cm<tspan x="1305.4" dy="-27" font-size="42.5px">-1</tspan><tspan x="1348.4" dy="27">)</tspan></text>
<text id="ylabel" transform="translate(74.2 864.8) rotate(-90) scale(1 1.065)" font-size="68.4px">Absorbance</text>
</g></g></g></svg></body></html>
